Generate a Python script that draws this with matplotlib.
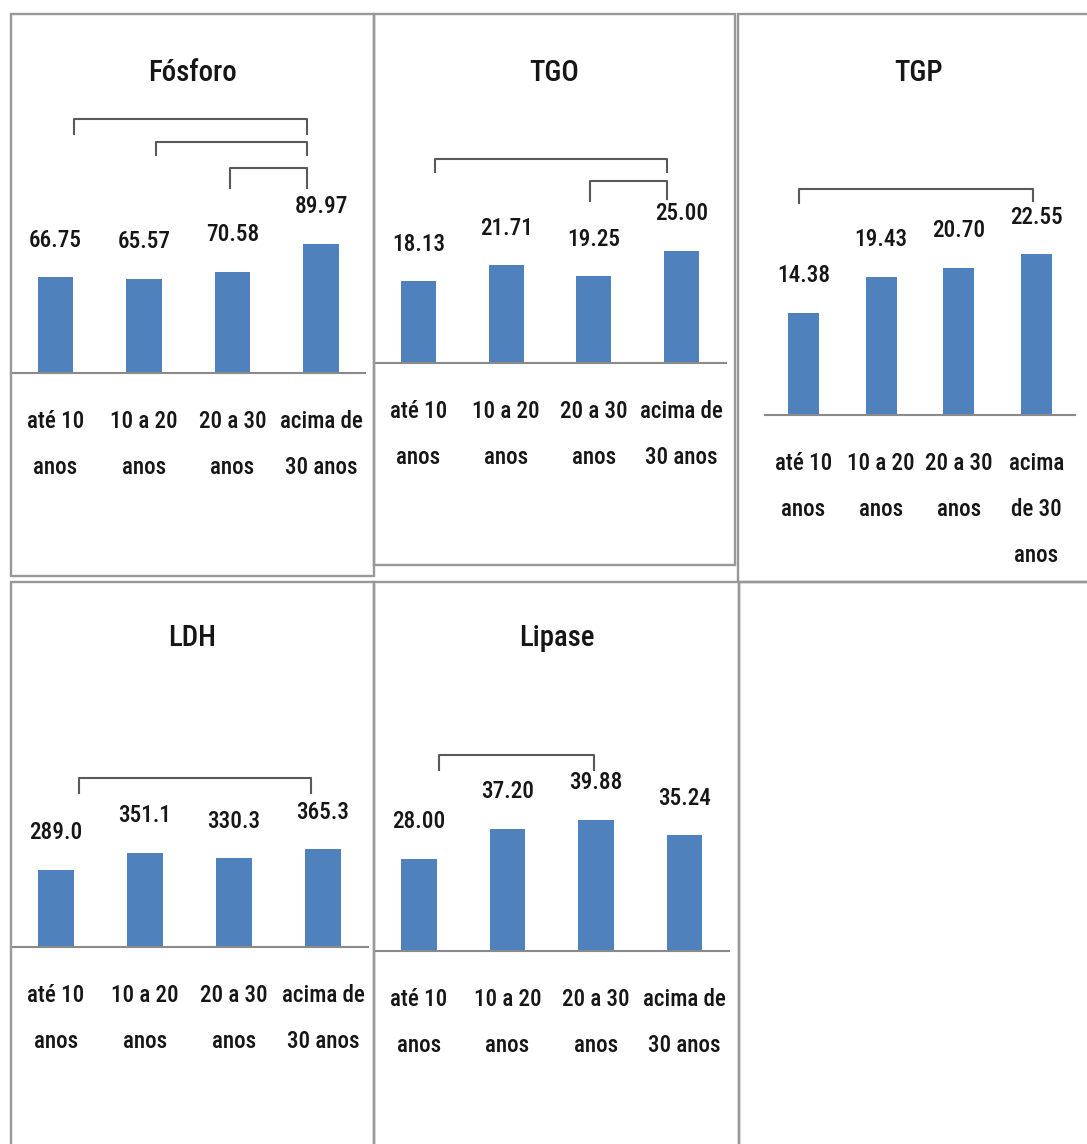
import matplotlib
matplotlib.use('Agg')
import matplotlib.pyplot as plt
from matplotlib import transforms
from matplotlib import font_manager as fm
from matplotlib.textpath import TextPath
from matplotlib.patches import Rectangle

W, H, DPI = 1087, 1144, 100

# Faixas etárias (rótulos do eixo x)
faixas = ['até 10\nanos', '10 a 20\nanos', '20 a 30\nanos', 'acima de\n30 anos']
faixas_tgp = ['até 10\nanos', '10 a 20\nanos', '20 a 30\nanos', 'acima\nde 30\nanos']

# Médias por faixa etária
fosforo = [66.75, 65.57, 70.58, 89.97]
tgo = [18.13, 21.71, 19.25, 25.00]
tgp = [14.38, 19.43, 20.70, 22.55]
ldh = [289.0, 351.1, 330.3, 365.3]
lipase = [28.00, 37.20, 39.88, 35.24]

BLUE = '#4F81BD'
TXT = '#161616'
BORDER = '#989898'
AXIS = '#8a8a8a'
BRACKET = '#595959'

# narrow font if there is one, sizes are fitted to the ink width below
names = {f.name for f in fm.fontManager.ttflist}
familia = next((n for n in ['Liberation Sans Narrow', 'DejaVu Sans Condensed', 'Roboto Condensed']
                if n in names), 'DejaVu Sans')
plt.rcParams['font.family'] = familia
plt.rcParams['font.weight'] = 'medium'
fp = fm.FontProperties(family=familia, weight='medium')


def fit_size(text, width_px):
    w = TextPath((0, 0), text, size=100, prop=fp).get_extents().width
    return width_px / (w / 100 * DPI / 72)


title_size = fit_size('Fósforo', 86)
value_size = fit_size('66.75', 51)
tick_size = fit_size('acima de', 81)


def fx(px):
    return px / W


def fy(py):
    return 1 - py / H


# box = borda do quadro, eixo = faixa x do eixo, base = linha do eixo (px)
# chaves = (x esq, x dir, y topo, y fim esq, y fim dir)
paineis = [
    dict(titulo='Fósforo', valores=fosforo, rotulos=faixas, fmt='{:.2f}',
         box=(11, 14, 374, 576), eixo=(11.25, 365.25), base=373, ymax=250.3, ty=73,
         chaves=[(0.21, 2.84, 119, 134, 134), (1.14, 2.84, 142, 155, 155),
                 (1.97, 2.84, 168, 188, 188)]),
    dict(titulo='TGO', valores=tgo, rotulos=faixas, fmt='{:.2f}',
         box=(374, 14, 735, 565), eixo=(374.7, 725.5), base=363, ymax=77.6, ty=73,
         chaves=[(0.19, 2.83, 159, 172, 172), (1.96, 2.83, 181, 201, 199)]),
    dict(titulo='TGP', valores=tgp, rotulos=faixas_tgp, fmt='{:.2f}',
         box=(738, 14, 1100, 582), eixo=(764.6, 1075.4), base=415, ymax=56.3, ty=73,
         chaves=[(-0.06, 2.95, 189, 203, 201)]),
    dict(titulo='LDH', valores=ldh, rotulos=faixas, fmt='{:.1f}',
         box=(11, 582, 374, 1150), eixo=(11.5, 367.5), base=947, ymax=1362, ty=638,
         chaves=[(0.26, 2.87, 778, 793, 793)]),
    dict(titulo='Lipase', valores=lipase, rotulos=faixas, fmt='{:.2f}',
         box=(374, 582, 739, 1150), eixo=(374.75, 728.75), base=951, ymax=112.2, ty=638,
         chaves=[(0.23, 1.98, 755, 770, 770)]),
]

fig = plt.figure(figsize=(W / DPI, H / DPI), dpi=DPI)

for p in paineis:
    x0, y0, x1, y1 = p['box']
    fig.add_artist(Rectangle((fx(x0), fy(y1)), fx(x1) - fx(x0), fy(y0) - fy(y1),
                             transform=fig.transFigure, fill=False, ec=BORDER, lw=1.7))

    a0, a1 = p['eixo']
    base = p['base']
    ax = fig.add_axes([fx(a0), fy(base), fx(a1) - fx(a0), fy(y0) - fy(base)])
    ax.patch.set_alpha(0)
    n = len(p['valores'])
    ax.bar(range(n), p['valores'], width=0.4, color=BLUE)
    ax.set_xlim(-0.5, n - 0.5)
    ax.set_ylim(0, p['ymax'])
    for s in ['top', 'left', 'right']:
        ax.spines[s].set_visible(False)
    ax.spines['bottom'].set_color(AXIS)
    ax.spines['bottom'].set_linewidth(1.5)
    ax.set_xticks([])
    ax.set_yticks([])

    # valores acima das barras
    for i, v in enumerate(p['valores']):
        ax.annotate(p['fmt'].format(v), (i, v), xytext=(0, 37 * 72 / DPI),
                    textcoords='offset points', ha='center', va='center',
                    fontsize=value_size, color=TXT)

    # rótulos das faixas, uma linha de cada vez
    tr = transforms.blended_transform_factory(ax.transData, fig.transFigure)
    for i, lab in enumerate(p['rotulos']):
        for k, linha in enumerate(lab.split('\n')):
            ax.text(i, fy(base + 48 + 46 * k), linha, transform=tr, ha='center',
                    va='center', fontsize=tick_size, color=TXT)

    # chaves de comparação entre faixas
    for xl, xr, yt, yle, yre in p['chaves']:
        ax.plot([xl, xl, xr, xr], [fy(yle), fy(yt), fy(yt), fy(yre)], transform=tr,
                color=BRACKET, lw=1.5, clip_on=False, solid_joinstyle='round')

    fig.text(fx((x0 + x1) / 2), fy(p['ty']), p['titulo'], ha='center', va='center',
             fontsize=title_size, color=TXT)

# quadro vazio no canto inferior direito
fig.add_artist(Rectangle((fx(739), fy(1150)), fx(1100) - fx(739), fy(582) - fy(1150),
                         transform=fig.transFigure, fill=False, ec=BORDER, lw=1.7))

fig.savefig('out.png', dpi=DPI, facecolor='white')
